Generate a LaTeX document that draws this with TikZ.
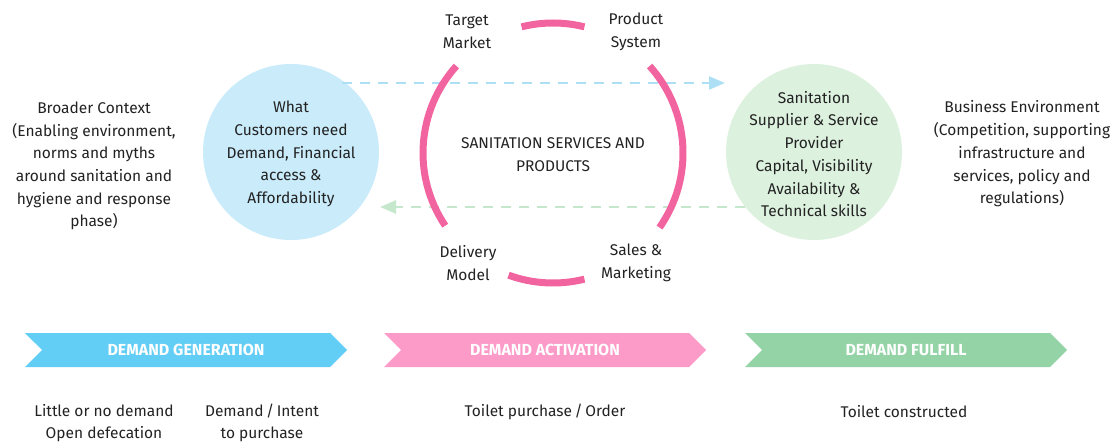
\documentclass[tikz,border=0pt]{standalone}
\usepackage{fontspec}
\setmainfont{Fira Sans}
\usetikzlibrary{arrows.meta, shapes.symbols, positioning, calc}

\definecolor{txtgray}{HTML}{222222}
\definecolor{custblue}{HTML}{C9EBFA}
\definecolor{suppgreen}{HTML}{DDF1DF}
\definecolor{ringpink}{HTML}{F2649F}
\definecolor{dashblue}{HTML}{AEE0F5}
\definecolor{dashgreen}{HTML}{C5E8CC}
\definecolor{chevblue}{HTML}{62CDF5}
\definecolor{chevpink}{HTML}{FC9AC8}
\definecolor{chevgreen}{HTML}{93D3A6}

\tikzset{
  txt/.style={align=center, text=txtgray, inner sep=0pt, yshift=-2pt, font=\fontsize{15.5}{22.7}\selectfont},
  bubble/.style={circle, minimum size=176pt, inner sep=0pt},
  ring/.style={ringpink, line width=7pt},
  flow/.style={line width=2.5pt, dash pattern=on 10pt off 8pt, -{Triangle[length=16pt,width=13pt]}},
  chevron/.style={signal, signal to=east, signal from=west, minimum width=322pt,
    minimum height=34pt, inner sep=0pt, text=white,
    font=\fontsize{16}{18}\selectfont\bfseries}
}

\begin{document}
\begin{tikzpicture}[x=1pt, y=1pt]
  \useasboundingbox (0,0) rectangle (1118,442);

  % --- Circles ---
  \node[bubble, fill=custblue] (cust) at (291,290) {};
  \node[bubble, fill=suppgreen] (supp) at (814,290) {};
  \coordinate (ring) at (553,289);

  % --- Flows between the two sides ---
  \coordinate (bluefrom) at (342,359);
  \coordinate (blueto) at (725,359);
  \coordinate (greenfrom) at (745,235);
  \coordinate (greento) at (380,235);
  \draw[flow, dashblue] (bluefrom) -- (blueto);
  \draw[flow, dashgreen] (greenfrom) -- (greento);

  % --- Pink ring pieces ---
  \draw[ring] (ring) ++(76:130) arc (76:104:130);
  \draw[ring] (ring) ++(138:130) arc (138:214:130);
  \draw[ring] (ring) ++(250:130) arc (250:284:130);
  \draw[ring] (ring) ++(-35:130) arc (-35:42:130);

  % --- Texts ---
  \node[txt] (custtxt) at (cust) {What\\Customers need\\Demand, Financial\\access \&\\Affordability};
  \node[txt] (supptxt) at (supp) {Sanitation\\Supplier \& Service\\Provider\\Capital, Visibility\\Availability \&\\Technical skills};
  \node[txt] (core) at (ring) {SANITATION SERVICES AND\\PRODUCTS};
  \node[txt] (target) at (467,412) {Target\\Market};
  \node[txt] (product) at (636,412) {Product\\System};
  \node[txt] (delivery) at (468,181) {Delivery\\Model};
  \node[txt] (sales) at (636,181) {Sales \&\\Marketing};
  \node[txt] (broader) at (94,278) {Broader Context\\(Enabling environment,\\norms and myths\\around sanitation and\\hygiene and response\\phase)};
  \node[txt] (business) at (1022,290) {Business Environment\\(Competition, supporting\\infrastructure and\\services, policy and\\regulations)};

  % --- Stages ---
  \node[chevron, fill=chevblue] (gen) at (186,92) {DEMAND GENERATION};
  \node[chevron, fill=chevpink] (act) at (545,92) {DEMAND ACTIVATION};
  \node[chevron, fill=chevgreen] (ful) at (906,92) {DEMAND FULFILL};

  \node[txt] (little) at (104,21) {Little or no demand\\Open defecation};
  \node[txt] (intent) at (262,21) {Demand\,/\,Intent\\to purchase};
  \node[txt] (order) at (545,32) {Toilet purchase\,/\,Order};
  \node[txt] (built) at (904,32) {Toilet constructed};
\end{tikzpicture}
\end{document}
